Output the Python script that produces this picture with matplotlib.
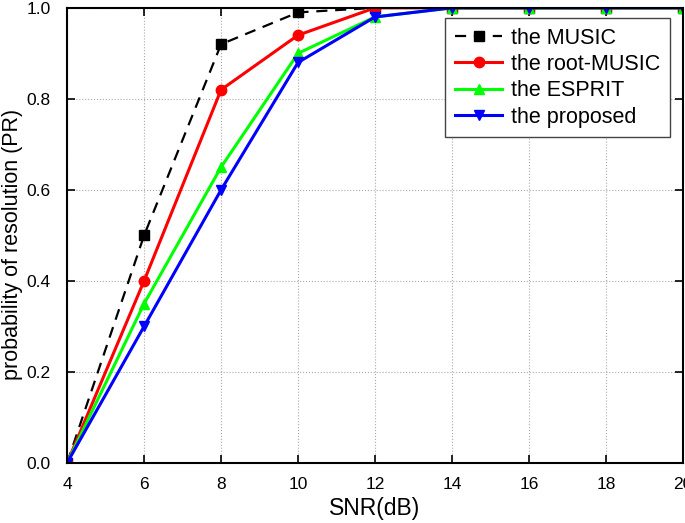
import matplotlib.pyplot as plt

plt.rcParams['font.family'] = ['Liberation Sans', 'DejaVu Sans']

snr = [4, 6, 8, 10, 12, 14, 16, 18, 20]
pr_music = [0, 0.5, 0.92, 0.99, 1, 1, 1, 1, 1]
pr_root = [0, 0.4, 0.82, 0.94, 1, 1, 1, 1, 1]
pr_esprit = [0, 0.35, 0.65, 0.9, 0.98, 1, 1, 1, 1]
pr_proposed = [0, 0.3, 0.6, 0.88, 0.98, 1, 1, 1, 1]

fig = plt.figure(figsize=(6.85, 5.23), dpi=100)
ax = fig.add_axes([0.098, 0.115, 0.899, 0.870])

ax.plot(snr, pr_music, 'k--s', lw=1.6, ms=6.5, label='the MUSIC', dashes=(5, 3.5))
ax.plot(snr, pr_root, color='#ff0000', marker='o', lw=2.2, ms=7.5, label='the root-MUSIC')
ax.plot(snr, pr_esprit, color='#00ff00', marker='^', lw=2.2, ms=7.5, label='the ESPRIT')
ax.plot(snr, pr_proposed, color='#0000ff', marker='v', lw=2.2, ms=7.5, label='the proposed')

ax.set_xlim(4, 20)
ax.set_ylim(0, 1.0)
ax.set_xticks(range(4, 21, 2))
ax.set_yticks([0, 0.2, 0.4, 0.6, 0.8, 1.0])
ax.set_yticklabels(['0.0', '0.2', '0.4', '0.6', '0.8', '1.0'])
ax.grid(True, color='#aaaaaa', linestyle=':', lw=0.8)
ax.tick_params(direction='in', top=True, right=True, length=6, width=1.2, labelsize=12.5)
ax.tick_params(axis='x', pad=10)
ax.tick_params(axis='y', pad=12)
for s in ax.spines.values():
    s.set_linewidth(1.5)

ax.set_xlabel('SNR(dB)', fontsize=16.5, labelpad=4)
ax.set_ylabel('probability of resolution (PR)', fontsize=15.5, va='center')
ax.yaxis.set_label_coords(-0.088, 0.48)

leg = ax.legend(loc='upper right', bbox_to_anchor=(0.979, 0.978), borderaxespad=0, fontsize=15.5,
                fancybox=False, edgecolor='#444444', framealpha=1, handlelength=2.2,
                borderpad=0.45, labelspacing=0.25, handletextpad=0.4)
leg.get_frame().set_linewidth(1.0)

fig.savefig('out.png', dpi=100)
